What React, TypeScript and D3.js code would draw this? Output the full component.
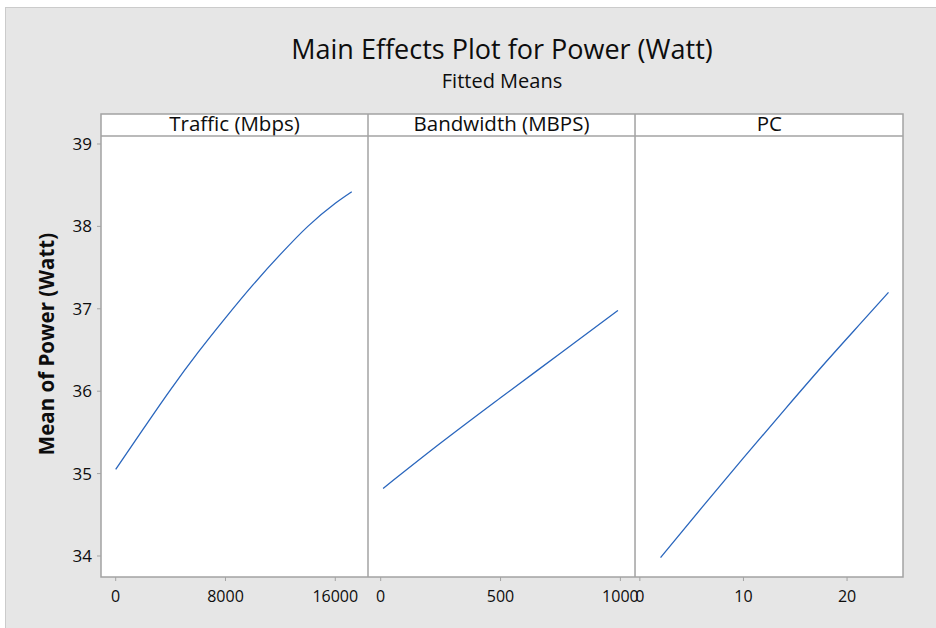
import React from "react";
import * as d3 from "d3";

const panelTitles = ["Traffic (Mbps)", "Bandwidth (MBPS)", "PC"];

const trafficX = [0, 2000, 4000, 6000, 8000, 10000, 12000, 14000, 16000, 17200];
const trafficY = [35.05, 35.54, 36.02, 36.47, 36.89, 37.29, 37.66, 38.0, 38.28, 38.42];

const bandwidthX = [10, 250, 500, 750, 990];
const bandwidthY = [34.82, 35.37, 35.92, 36.46, 36.98];

const pcX = [2, 6, 10, 14, 18, 22, 24];
const pcY = [33.98, 34.59, 35.19, 35.78, 36.36, 36.92, 37.2];

const yTicks = [34, 35, 36, 37, 38, 39];
const trafficTicks = [0, 8000, 16000];
const bandwidthTicks = [0, 500, 1000];
const pcTicks = [0, 10, 20];

const W = 936;
const H = 628;
const FONT = "'Open Sans', 'Noto Sans', sans-serif";
const FRAME = "#a3a3a3";
const LINE = "#2a66bd";
const INK = "#0d0d0d";

export default function App() {
  const top = 136;
  const bottom = 577;
  const stripTop = 114;
  const y = d3.scaleLinear().domain([33.745, 39.097]).range([bottom, top]);

  const panels = [
    { title: panelTitles[0], xs: trafficX, ys: trafficY, ticks: trafficTicks, x: d3.scaleLinear().domain([-1071, 18383]).range([101, 368]) },
    { title: panelTitles[1], xs: bandwidthX, ys: bandwidthY, ticks: bandwidthTicks, x: d3.scaleLinear().domain([-53, 1061]).range([368, 635]) },
    { title: panelTitles[2], xs: pcX, ys: pcY, ticks: pcTicks, x: d3.scaleLinear().domain([-0.42, 25.4]).range([635.5, 903]) },
  ];

  return (
    <svg width={W} height={H} style={{ display: "block", position: "absolute", left: 0, top: 0 }} fontFamily={FONT}>
      <rect x={0} y={0} width={W} height={H} fill="#ffffff" />
      <rect x={5.5} y={7.5} width={W} height={H} fill="#e6e6e6" stroke="#cbcbcb" strokeWidth={1} />
      <text x={502} y={59} textAnchor="middle" fontSize={27} fill={INK}>Main Effects Plot for Power (Watt)</text>
      <text x={502} y={88} textAnchor="middle" fontSize={20} fill={INK}>Fitted Means</text>

      {panels.map((p, i) => {
        const [x0, x1] = p.x.range();
        const line = d3
          .line<number>()
          .x((_, k) => p.x(p.xs[k]))
          .y((d) => y(d))
          .curve(d3.curveMonotoneX);
        return (
          <g key={i}>
            <rect x={x0} y={stripTop} width={x1 - x0} height={top - stripTop} fill="#fff" />
            <rect x={x0} y={top} width={x1 - x0} height={bottom - top} fill="#fff" />
            <text x={(x0 + x1) / 2} y={131} textAnchor="middle" fontSize={20.5} fill={INK}>{p.title}</text>
            <path d={line(p.ys) || ""} fill="none" stroke={LINE} strokeWidth={1.3} />
            {p.ticks.map((t) => (
              <g key={t}>
                <line x1={p.x(t)} x2={p.x(t)} y1={bottom} y2={bottom + 4} stroke={FRAME} strokeWidth={1} />
                <text x={p.x(t)} y={602} textAnchor="middle" fontSize={16} fill={INK}>{t}</text>
              </g>
            ))}
          </g>
        );
      })}

      <rect x={101} y={stripTop} width={802} height={bottom - stripTop} fill="none" stroke={FRAME} strokeWidth={1.5} />
      <line x1={101} x2={903} y1={top} y2={top} stroke={FRAME} strokeWidth={1.5} />
      <line x1={368} x2={368} y1={stripTop} y2={bottom} stroke={FRAME} strokeWidth={1.5} />
      <line x1={635} x2={635} y1={stripTop} y2={bottom} stroke={FRAME} strokeWidth={1.5} />

      {yTicks.map((t) => (
        <g key={t}>
          <line x1={97} x2={101} y1={y(t)} y2={y(t)} stroke={FRAME} strokeWidth={1} />
          <text x={92} y={y(t) + 6} textAnchor="end" fontSize={17} fill={INK}>{t}</text>
        </g>
      ))}

      <text
        transform={`translate(54,344) rotate(-90)`}
        textAnchor="middle"
        fontSize={20.5}
        fontWeight="bold"
        fill={INK}
      >
        Mean of Power (Watt)
      </text>
    </svg>
  );
}
